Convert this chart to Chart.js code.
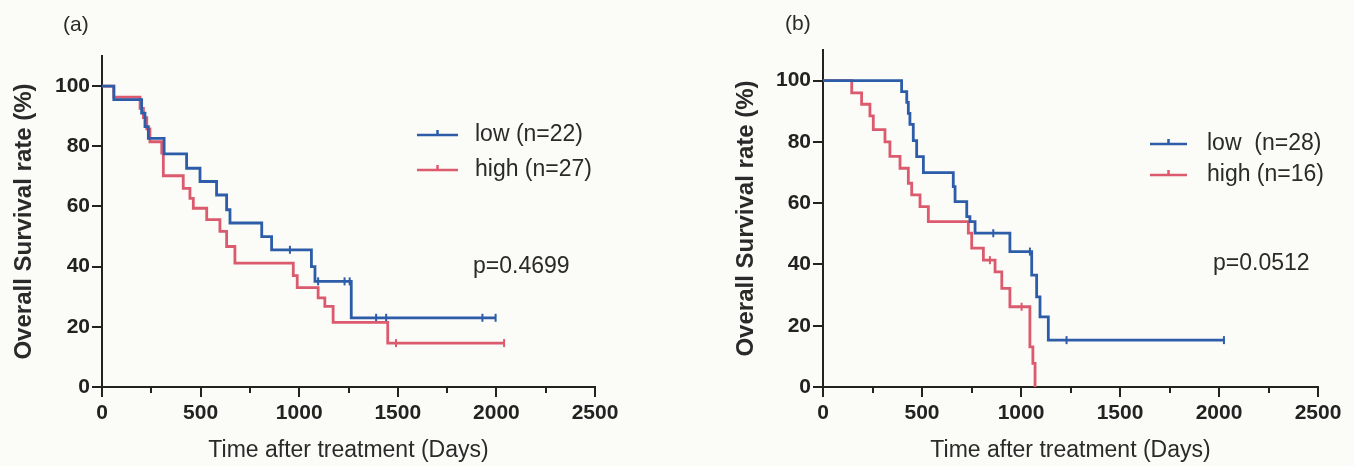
<!DOCTYPE html>
<html>
<head>
<meta charset="utf-8">
<script src="https://cdn.jsdelivr.net/npm/chart.js@4.4.0/dist/chart.umd.min.js"></script>
<style>
  body { margin: 0; background: #fbfbf7; width: 1354px; height: 466px; overflow: hidden; position: relative; }
  .panel { position: absolute; top: 0; width: 677px; height: 466px; }
</style>
</head>
<body>
<div class="panel" style="left:0"><canvas id="chartA" width="677" height="466"></canvas></div>
<div class="panel" style="left:677px"><canvas id="chartB" width="677" height="466"></canvas></div>
<script>
// panel (a)
let lowDaysA  = [0, 60, 201, 218, 235, 315, 429, 497, 581, 632, 649, 810, 860, 1062, 1080, 1264, 1996];
let lowSurvA  = [100, 95.5, 91, 86.5, 82.6, 77.5, 72.7, 68.3, 63.8, 58.9, 54.5, 50, 45.6, 40, 35.1, 23, 23];
let lowCensA  = [953, 1096, 1230, 1256, 1390, 1441, 1929, 1996];
let highDaysA = [0, 60, 193, 210, 227, 243, 303, 311, 412, 446, 463, 531, 598, 632, 674, 970, 990, 1096, 1130, 1172, 1449, 2039];
let highSurvA = [100, 96.3, 92.6, 89.5, 85.8, 81.5, 77.7, 70.2, 66, 62.7, 59.4, 55.6, 51.7, 46.7, 41.2, 37, 33, 29.6, 26.8, 21.5, 14.6, 14.6];
let highCensA = [1491, 2039];

// panel (b)
let lowDaysB  = [0, 397, 423, 431, 439, 456, 473, 507, 658, 667, 726, 742, 768, 944, 1054, 1079, 1096, 1138, 2025];
let lowSurvB  = [100, 96.4, 92.9, 89.3, 85.7, 80.4, 75.2, 70, 65.4, 60.5, 55.6, 54, 50.2, 44.2, 36.5, 29.4, 22.9, 15.3, 15.3];
let lowCensB  = [860, 1045, 1230, 2025];
let highDaysB = [0, 145, 195, 237, 254, 313, 338, 389, 431, 448, 490, 532, 734, 751, 810, 869, 903, 944, 1045, 1060, 1071];
let highSurvB = [100, 96, 92.3, 88.5, 84, 80, 75.3, 71.4, 66.5, 62.7, 58.9, 54, 50.2, 45.3, 41.4, 37.6, 32.2, 26.2, 13.1, 7.7, 0];
let highCensB = [843, 1003];

let legendA = ["low (n=22)", "high (n=27)"];
let legendB = ["low  (n=28)", "high (n=16)"];
let pValueA = "p=0.4699";
let pValueB = "p=0.0512";

let xTicks = [0, 500, 1000, 1500, 2000, 2500];
let yTicks = [0, 20, 40, 60, 80, 100];

const BLUE = "#2d5da8";
const RED = "#dc5a6e";
const INK = "#222222";
const FONT = "'Liberation Sans', Arial, sans-serif";

function points(days, surv) {
    return days.map((d, i) => ({ x: d, y: surv[i] }));
}

// y of the step curve at time t
function survAt(days, surv, t) {
    let s = surv[0];
    for (let i = 0; i < days.length; i++) {
        if (days[i] <= t) s = surv[i];
    }
    return s;
}

function censPoints(days, surv, cens) {
    return cens.map(t => ({ x: t, y: survAt(days, surv, t) }));
}

// panel letter, legend, p value, minor ticks
const decorPlugin = {
    id: "decor",
    afterDraw(chart, args, opts) {
        let ctx = chart.ctx;
        let xs = chart.scales.x;
        let area = chart.chartArea;

        // minor x ticks
        ctx.save();
        ctx.strokeStyle = INK;
        ctx.lineWidth = 2;
        for (let v = 250; v < 2500; v += 500) {
            let px = Math.round(xs.getPixelForValue(v));
            ctx.beginPath();
            ctx.moveTo(px, area.bottom);
            ctx.lineTo(px, area.bottom + 6);
            ctx.stroke();
        }

        ctx.fillStyle = "#2a2a2a";
        ctx.textBaseline = "middle";
        ctx.textAlign = "left";
        ctx.font = "21px " + FONT;
        ctx.fillText(opts.label, opts.labelX, opts.labelY);

        ctx.font = "23px " + FONT;
        opts.items.forEach((it, i) => {
            let y = opts.legendY[i];
            ctx.strokeStyle = it.color;
            ctx.lineWidth = 2.5;
            ctx.beginPath();
            ctx.moveTo(opts.lineX0, y);
            ctx.lineTo(opts.lineX1, y);
            let mid = (opts.lineX0 + opts.lineX1) / 2;
            ctx.moveTo(mid, y - 5);
            ctx.lineTo(mid, y + 1);
            ctx.stroke();
            ctx.fillText(it.text, opts.textX, y);
        });

        ctx.fillText(opts.pText, opts.pX, opts.pY);
        ctx.restore();
    }
};

function makeChart(id, low, high, decor, layoutPad, yWidth) {
    let ctx = document.getElementById(id).getContext("2d");

    return new Chart(ctx, {
        type: "line",
        data: {
            datasets: [
                {
                    data: points(low.days, low.surv),
                    borderColor: BLUE,
                    borderWidth: 2.8,
                    stepped: true,
                    pointRadius: 0,
                    fill: false
                },
                {
                    data: points(high.days, high.surv),
                    borderColor: RED,
                    borderWidth: 2.8,
                    stepped: true,
                    pointRadius: 0,
                    fill: false
                },
                {
                    type: "scatter",
                    data: censPoints(low.days, low.surv, low.cens),
                    pointStyle: "line",
                    rotation: 90,
                    radius: 4,
                    borderWidth: 2,
                    borderColor: BLUE
                },
                {
                    type: "scatter",
                    data: censPoints(high.days, high.surv, high.cens),
                    pointStyle: "line",
                    rotation: 90,
                    radius: 4,
                    borderWidth: 2,
                    borderColor: RED
                }
            ]
        },
        options: {
            responsive: false,
            animation: false,
            devicePixelRatio: 1,
            layout: { padding: layoutPad },
            plugins: {
                legend: { display: false },
                tooltip: { enabled: false },
                decor: decor
            },
            scales: {
                x: {
                    type: "linear",
                    min: 0,
                    max: 2500,
                    afterFit: s => { s.height = 79; },
                    afterBuildTicks: s => { s.ticks = xTicks.map(v => ({ value: v })); },
                    ticks: {
                        color: INK,
                        padding: 4,
                        maxRotation: 0,
                        callback: v => String(v),
                        font: { family: FONT, size: 21, weight: "bold" }
                    },
                    grid: {
                        drawOnChartArea: false,
                        drawTicks: true,
                        tickLength: 10,
                        color: INK,
                        lineWidth: 2
                    },
                    border: { color: INK, width: 2 },
                    title: {
                        display: true,
                        text: "Time after treatment (Days)",
                        color: "#2a2a2a",
                        padding: { top: 0, bottom: 2 },
                        font: { family: FONT, size: 23 }
                    }
                },
                y: {
                    min: 0,
                    max: 110,
                    afterFit: s => { s.width = yWidth; },
                    afterBuildTicks: s => { s.ticks = yTicks.map(v => ({ value: v })); },
                    ticks: {
                        color: INK,
                        padding: 2,
                        callback: v => String(v),
                        font: { family: FONT, size: 21, weight: "bold" }
                    },
                    grid: {
                        drawOnChartArea: false,
                        drawTicks: true,
                        tickLength: 10,
                        color: INK,
                        lineWidth: 2
                    },
                    border: { color: INK, width: 2 },
                    title: {
                        display: true,
                        text: "Overall Survival rate (%)",
                        color: "#2a2a2a",
                        padding: { top: 0, bottom: 0 },
                        font: { family: FONT, size: 24, weight: "bold" }
                    }
                }
            }
        },
        plugins: [decorPlugin]
    });
}

makeChart("chartA",
    { days: lowDaysA, surv: lowSurvA, cens: lowCensA },
    { days: highDaysA, surv: highSurvA, cens: highCensA },
    {
        label: "(a)", labelX: 63, labelY: 25,
        items: [{ text: legendA[0], color: BLUE }, { text: legendA[1], color: RED }],
        legendY: [135, 170],
        lineX0: 417, lineX1: 458, textX: 475,
        pText: pValueA, pX: 473, pY: 267
    },
    { left: 10, top: 56, right: 82, bottom: 0 },
    92
);

makeChart("chartB",
    { days: lowDaysB, surv: lowSurvB, cens: lowCensB },
    { days: highDaysB, surv: highSurvB, cens: highCensB },
    {
        label: "(b)", labelX: 108, labelY: 24,
        items: [{ text: legendB[0], color: BLUE }, { text: legendB[1], color: RED }],
        legendY: [144, 175],
        lineX0: 473, lineX1: 510, textX: 530,
        pText: pValueB, pX: 536, pY: 264
    },
    { left: 55, top: 50, right: 36, bottom: 0 },
    91
);
</script>
</body>
</html>
